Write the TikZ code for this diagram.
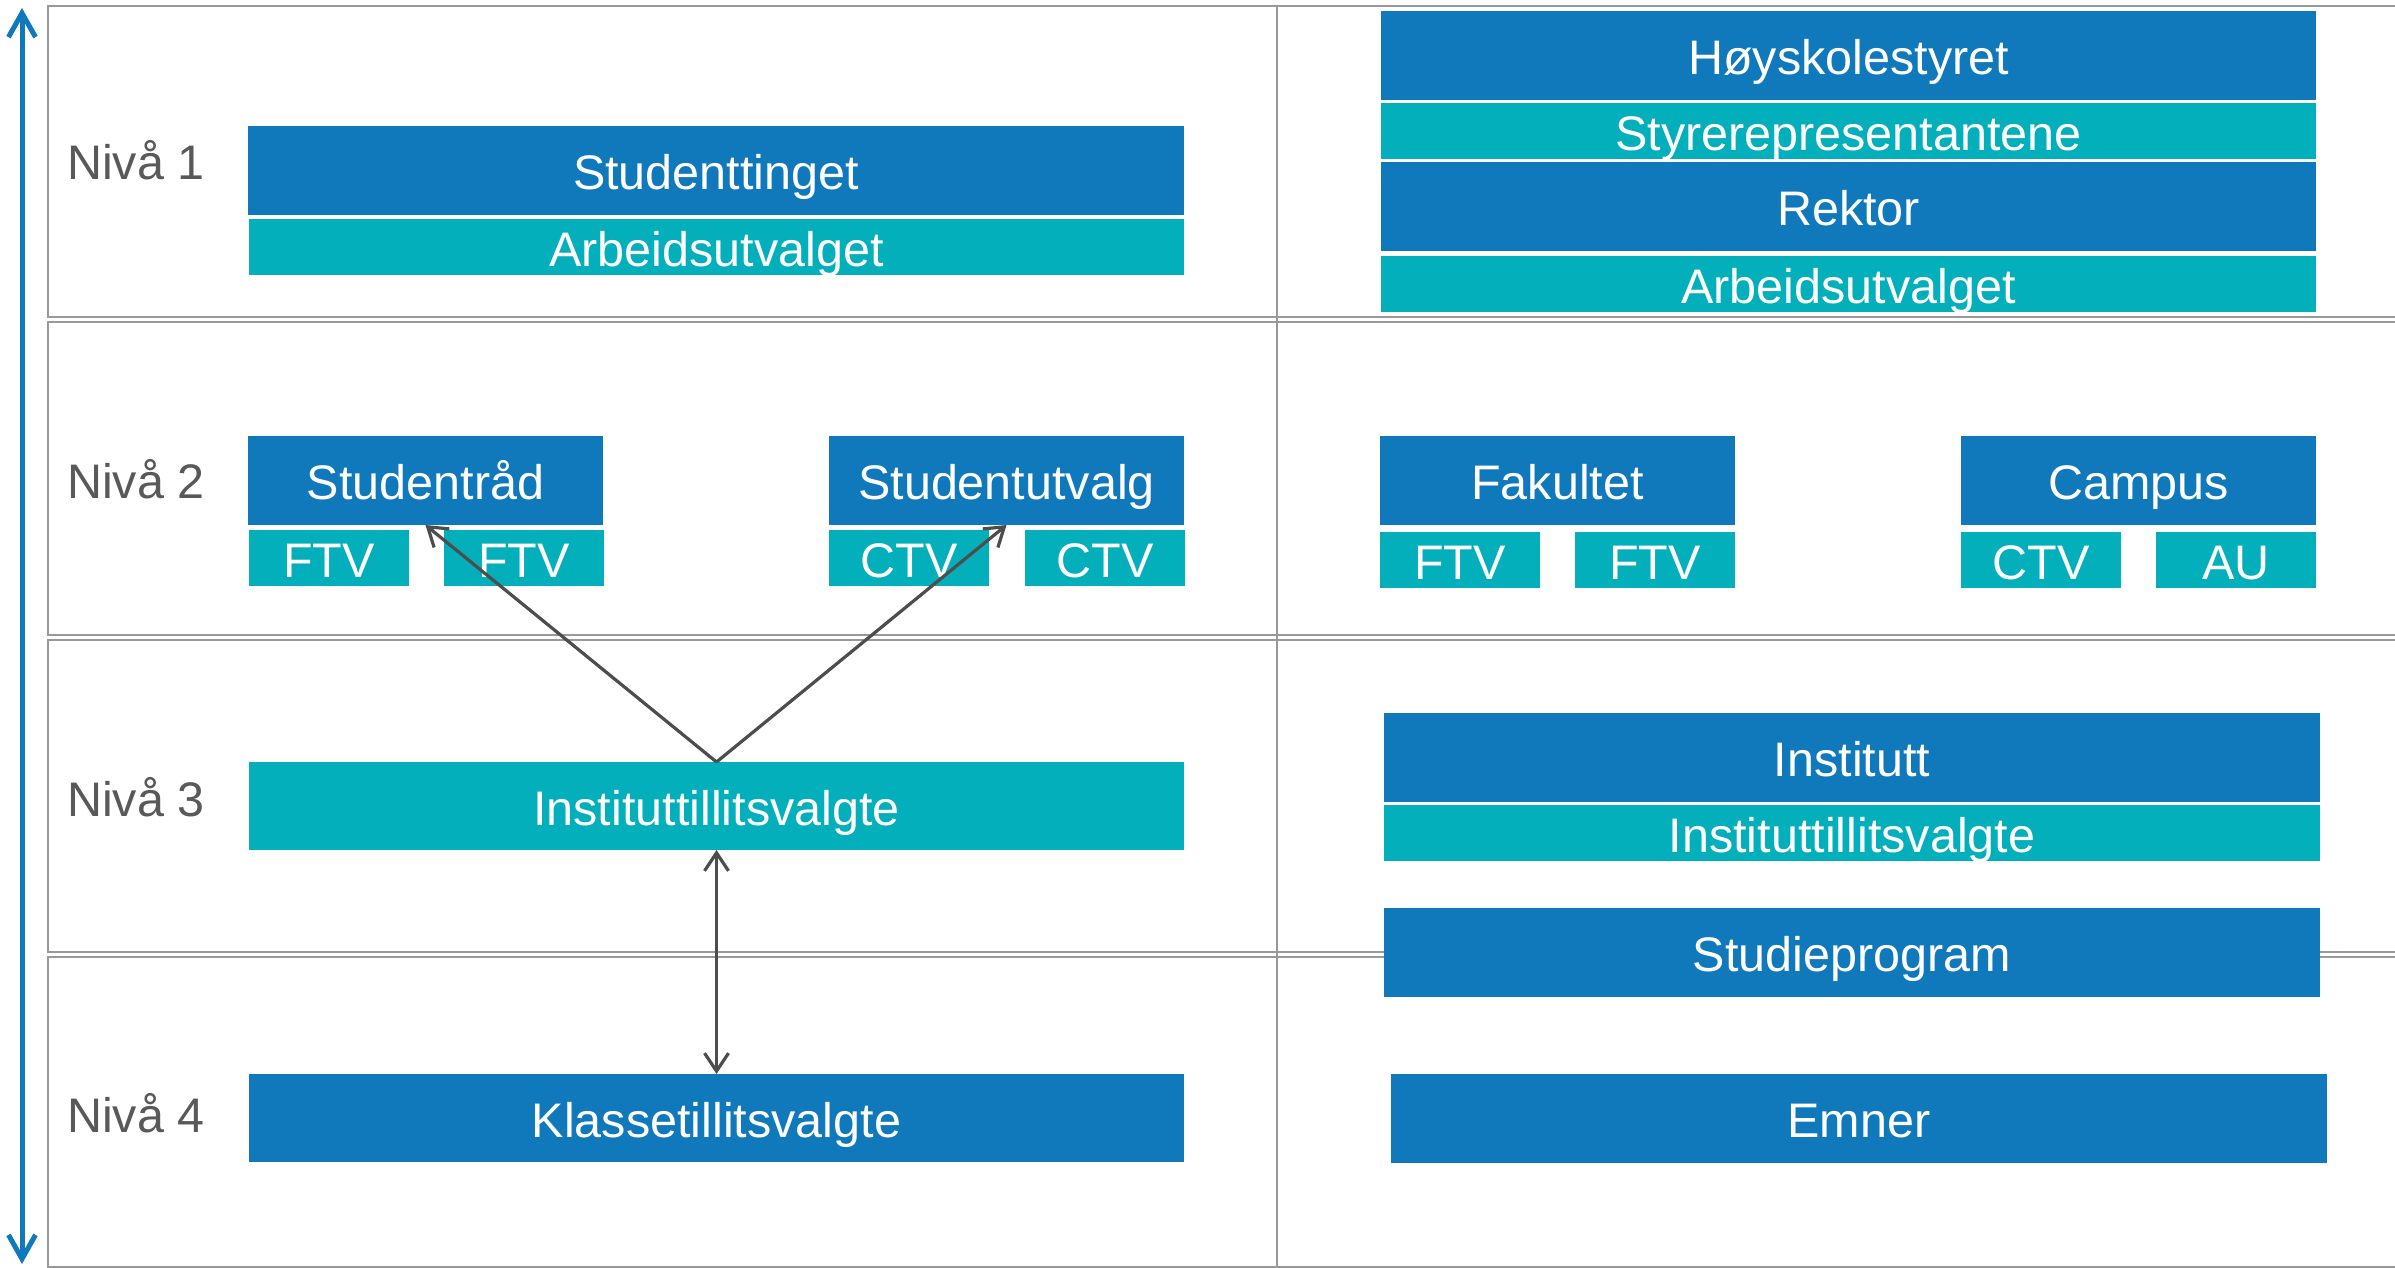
\documentclass[tikz,border=0pt]{standalone}
\usepackage{fontspec}
\setmainfont{Liberation Sans}
\usetikzlibrary{arrows.meta}
\definecolor{hblue}{HTML}{1079BB}
\definecolor{hteal}{HTML}{02AFBA}
\definecolor{gridgray}{HTML}{999999}
\definecolor{txtgray}{HTML}{595959}
\definecolor{arrgray}{HTML}{4D4D4D}
\begin{document}
\begin{tikzpicture}[x=1pt,y=-1pt,
  boxbase/.style={anchor=north west, inner sep=0pt, outer sep=0pt, text=white,
    font=\fontsize{48.5}{48}\selectfont, text height=38.5pt, text depth=0pt},
  bluebox/.style={boxbase, fill=hblue},
  tealbox/.style={boxbase, fill=hteal},
  lvl/.style={anchor=west, inner sep=0pt, text=txtgray,
    font=\fontsize{48.5}{48}\selectfont, text height=34.5pt, text depth=0pt},
  gridline/.style={draw=gridgray, line width=2.5pt},
  conn/.style={draw=arrgray, line width=3.2pt, -{Straight Barb[length=18pt,width=24pt]}},
  conntwo/.style={draw=arrgray, line width=3.2pt, {Straight Barb[length=18pt,width=24pt]}-{Straight Barb[length=18pt,width=24pt]}},
  sidearrow/.style={draw=hblue, line width=5pt, {Straight Barb[length=24pt,width=27pt]}-{Straight Barb[length=24pt,width=27pt]}}
]
\useasboundingbox (0,0) rectangle (2395,1268);
\clip (0,0) rectangle (2395,1268);
\fill[white] (0,0) rectangle (2395,1268);

% grid
\draw[gridline] (48,6) rectangle (2450,317);
\draw[gridline] (48,322) rectangle (2450,635);
\draw[gridline] (48,640) rectangle (2450,952);
\draw[gridline] (48,957) rectangle (2450,1267);
\draw[gridline] (1277,6) -- (1277,1267);

% side arrow
\coordinate (atop) at (22,8);
\coordinate (abot) at (22,1264);
\draw[sidearrow] (atop) -- (abot);

% level labels
\node[lvl] (n1) at (67,162) {Nivå 1};
\node[lvl] (n2) at (67,481) {Nivå 2};
\node[lvl] (n3) at (67,799) {Nivå 3};
\node[lvl] (n4) at (67,1115) {Nivå 4};

% left column
\node[bluebox, minimum width=936pt, minimum height=89pt] (st) at (248,126) {Studenttinget};
\node[tealbox, minimum width=935pt, minimum height=56pt] (au1) at (249,219) {Arbeidsutvalget};
\node[bluebox, minimum width=355pt, minimum height=89pt] (sr) at (248,436) {Studentråd};
\node[tealbox, minimum width=160pt, minimum height=56pt] (ftv1) at (249,530) {FTV};
\node[tealbox, minimum width=160pt, minimum height=56pt] (ftv2) at (444,530) {FTV};
\node[bluebox, minimum width=355pt, minimum height=89pt] (su) at (829,436) {Studentutvalg};
\node[tealbox, minimum width=160pt, minimum height=56pt] (ctv1) at (829,530) {CTV};
\node[tealbox, minimum width=160pt, minimum height=56pt] (ctv2) at (1025,530) {CTV};
\node[tealbox, minimum width=935pt, minimum height=88pt] (ili) at (249,762) {Instituttillitsvalgte};
\node[bluebox, minimum width=935pt, minimum height=88pt] (kl) at (249,1074) {Klassetillitsvalgte};

% right column
\node[bluebox, minimum width=935pt, minimum height=89pt] (hs) at (1381,11) {Høyskolestyret};
\node[tealbox, minimum width=935pt, minimum height=56pt] (srep) at (1381,103) {Styrerepresentantene};
\node[bluebox, minimum width=935pt, minimum height=89pt] (rk) at (1381,162) {Rektor};
\node[tealbox, minimum width=935pt, minimum height=56pt] (au2) at (1381,256) {Arbeidsutvalget};
\node[bluebox, minimum width=355pt, minimum height=89pt] (fak) at (1380,436) {Fakultet};
\node[tealbox, minimum width=160pt, minimum height=56pt] (ftv3) at (1380,532) {FTV};
\node[tealbox, minimum width=160pt, minimum height=56pt] (ftv4) at (1575,532) {FTV};
\node[bluebox, minimum width=355pt, minimum height=89pt] (cam) at (1961,436) {Campus};
\node[tealbox, minimum width=160pt, minimum height=56pt] (ctv3) at (1961,532) {CTV};
\node[tealbox, minimum width=160pt, minimum height=56pt] (au3) at (2156,532) {AU};
\node[bluebox, minimum width=936pt, minimum height=89pt] (inst) at (1384,713) {Institutt};
\node[tealbox, minimum width=936pt, minimum height=56pt] (ili2) at (1384,805) {Instituttillitsvalgte};
\node[bluebox, minimum width=936pt, minimum height=89pt] (sp) at (1384,908) {Studieprogram};
\node[bluebox, minimum width=936pt, minimum height=89pt] (em) at (1391,1074) {Emner};

% connectors
\draw[conn] (ili.north) -- (sr.south);
\draw[conn] (ili.north) -- (su.south);
\draw[conntwo] (ili.south) -- (kl.north);
\end{tikzpicture}
\end{document}
